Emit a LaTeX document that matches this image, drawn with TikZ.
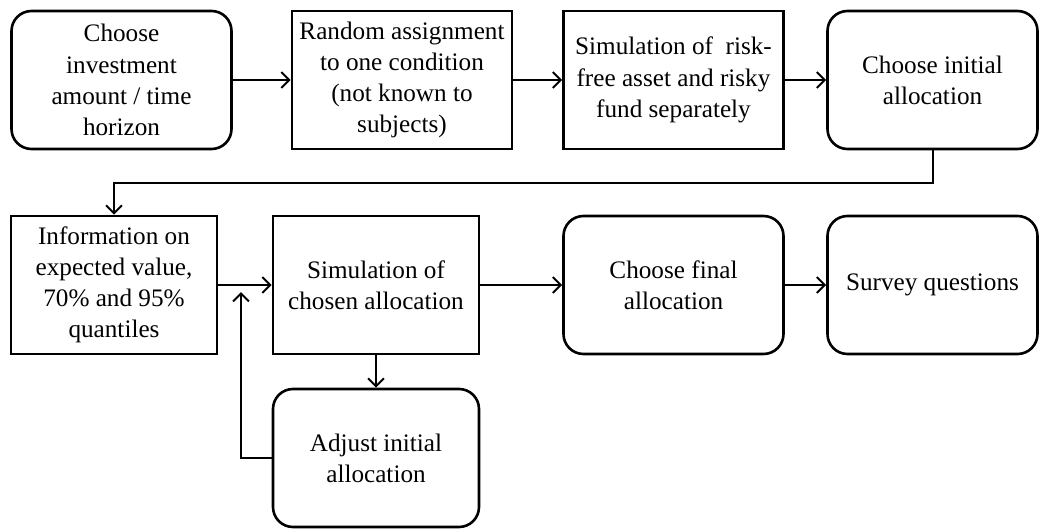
\documentclass[tikz,border=0pt]{standalone}
\usepackage{fontspec}
\setmainfont{Liberation Serif}
\usetikzlibrary{arrows.meta}
\tikzset{
  stepbox/.style={draw, line width=1.3pt, align=center, minimum height=69pt, inner sep=2pt},
  roundbox/.style={stepbox, rounded corners=10pt},
  flow/.style={line width=1pt, -{Straight Barb[length=4pt,width=8pt]}}
}
\begin{document}
\begin{tikzpicture}[x=0.5pt, y=-0.5pt, font=\fontsize{12.6}{15.6}\selectfont]
  \useasboundingbox (0,0) rectangle (1041,530);
  % first row
  \node[roundbox, minimum width=110pt] (choose) at (121.5,80) {Choose\\investment\\amount / time\\horizon};
  \node[stepbox, minimum width=110pt] (assign) at (402,80) {Random assignment\\to one condition\\(not known to\\subjects)};
  \node[stepbox, minimum width=110pt] (simfund) at (673.5,80) {Simulation of~ risk-\\free asset and risky\\fund separately};
  \node[roundbox, minimum width=105pt] (initial) at (932.5,80) {Choose initial\\allocation};
  % second row
  \node[stepbox, minimum width=103pt] (info) at (114,285) {Information on\\expected value,\\70\% and 95\%\\quantiles};
  \node[stepbox, minimum width=103pt] (simchosen) at (376,285) {Simulation of\\chosen allocation};
  \node[roundbox, minimum width=110pt] (final) at (673.5,285) {Choose final\\allocation};
  \node[roundbox, minimum width=105pt] (survey) at (932.5,285) {Survey questions};
  % third row
  \node[roundbox, minimum width=103pt] (adjust) at (376,458) {Adjust initial\\allocation};
  \coordinate (back) at (241,292);
  % connectors
  \draw[flow] (choose) -- (assign);
  \draw[flow] (assign) -- (simfund);
  \draw[flow] (simfund) -- (initial);
  \draw[flow] (initial.south) -- ++(0,33) -| (info.north);
  \draw[flow] (info) -- (simchosen);
  \draw[flow] (simchosen) -- (final);
  \draw[flow] (final) -- (survey);
  \draw[flow] (simchosen) -- (adjust);
  \draw[flow] (adjust.west) -| (back);
\end{tikzpicture}
\end{document}
